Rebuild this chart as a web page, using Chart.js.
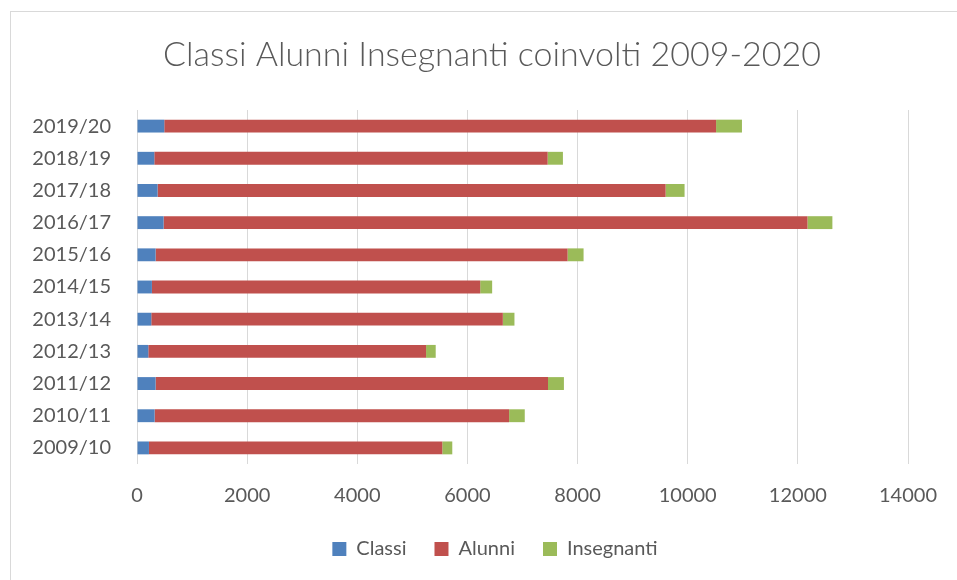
<!DOCTYPE html>
<html>
<head>
<meta charset="utf-8">
<script src="https://cdn.jsdelivr.net/npm/chart.js@4/dist/chart.umd.min.js"></script>
<style>
html,body{margin:0;padding:0;background:#fff;}
#wrap{position:relative;width:957px;height:580px;}
</style>
</head>
<body>
<div id="wrap"><canvas id="c" width="957" height="580"></canvas></div>
<script>
const categories = ["2009/10","2010/11","2011/12","2012/13","2013/14","2014/15","2015/16","2016/17","2017/18","2018/19","2019/20"];
const classi = [217, 320, 338, 205, 259, 271, 338, 483, 374, 314, 495];
const alunni = [5327, 6437, 7125, 5044, 6384, 5961, 7481, 11692, 9225, 7143, 10020];
const insegnanti = [181, 284, 289, 175, 211, 217, 290, 452, 344, 277, 470];
const seriesNames = ["Classi", "Alunni", "Insegnanti"];
const xTicks = [0, 2000, 4000, 6000, 8000, 10000, 12000, 14000];
const titleText = "Classi Alunni Insegnanti coinvolti 2009-2020";

const FONT = "Lato, 'Open Sans', sans-serif";
const TXT = "#595959";

const borderPlugin = {
  id: 'outerBorder',
  beforeDraw(chart) {
    const ctx = chart.ctx;
    ctx.save();
    ctx.fillStyle = '#fff';
    ctx.fillRect(0, 0, chart.width, chart.height);
    ctx.strokeStyle = '#d9d9d9';
    ctx.lineWidth = 1;
    ctx.strokeRect(10.5, 11.5, chart.width + 20, chart.height + 20);
    ctx.restore();
  },
  afterLayout(chart) {
    const lg = chart.legend, tb = chart.titleBlock;
    if (lg) { lg.left += 38; lg.right += 38; }
    if (tb) { tb.left += 35; tb.right += 35; }
  }
};

new Chart(document.getElementById('c'), {
  type: 'bar',
  data: {
    labels: categories,
    datasets: [
      { label: seriesNames[0], data: classi, backgroundColor: '#4f81bd' },
      { label: seriesNames[1], data: alunni, backgroundColor: '#c0504d' },
      { label: seriesNames[2], data: insegnanti, backgroundColor: '#9bbb59' }
    ]
  },
  options: {
    indexAxis: 'y',
    responsive: false,
    animation: false,
    devicePixelRatio: 1,
    layout: { padding: { left: 0, right: 43, top: 0, bottom: 11 } },
    datasets: { bar: { barPercentage: 0.4, categoryPercentage: 1.0, borderWidth: 0 } },
    plugins: {
      title: {
        display: true, text: titleText, color: TXT,
        font: { family: FONT, size: 34, weight: '300', lineHeight: 1.2 },
        padding: { top: 34.6, bottom: 34.6 }
      },
      legend: {
        position: 'bottom',
        labels: {
          color: TXT, font: { family: FONT, size: 20 },
          boxWidth: 14, boxHeight: 14, padding: 28
        }
      },
      tooltip: { enabled: false }
    },
    scales: {
      x: {
        stacked: true, min: 0, max: 14000,
        afterBuildTicks(scale) { scale.ticks = xTicks.map(v => ({ value: v })); },
        afterFit(scale) { scale.height = 47; },
        grid: { color: '#d9d9d9', lineWidth: 1, drawTicks: false },
        border: { display: false },
        ticks: { color: TXT, font: { family: FONT, size: 20 }, padding: 20, maxRotation: 0,
                 callback: (v) => String(v) }
      },
      y: {
        stacked: true, reverse: true,
        afterFit(scale) { scale.width = 137; },
        grid: { display: false, drawTicks: false },
        border: { display: false },
        ticks: { color: TXT, font: { family: FONT, size: 20 }, padding: 26 }
      }
    }
  },
  plugins: [borderPlugin]
});
</script>
</body>
</html>
